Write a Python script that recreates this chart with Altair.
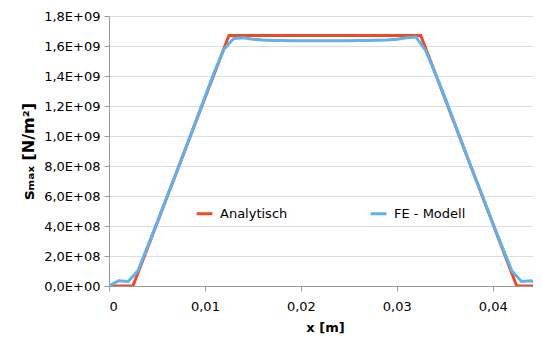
import altair as alt
import pandas as pd

# Analytic solution
ana_x = [0.0, 0.0025, 0.0125, 0.0325, 0.0425, 0.045]
ana_y = [0.0, 0.0, 1.67e9, 1.67e9, 0.0, 0.0]

# FE model
fe_x = [i * 0.001 for i in range(46)]
fe_y = [0.0, 3.5e7, 3.0e7, 1.0e8, 2.6e8, 4.2e8, 5.9e8, 7.5e8, 9.2e8, 1.09e9,
        1.26e9, 1.43e9, 1.58e9, 1.65e9, 1.655e9, 1.645e9, 1.64e9, 1.637e9, 1.636e9, 1.635e9,
        1.635e9, 1.635e9, 1.635e9, 1.635e9, 1.635e9, 1.635e9, 1.636e9, 1.637e9, 1.638e9, 1.64e9,
        1.645e9, 1.655e9, 1.66e9, 1.57e9, 1.42e9, 1.26e9, 1.09e9, 9.2e8, 7.5e8, 5.9e8,
        4.2e8, 2.6e8, 1.0e8, 3.0e7, 3.5e7, 0.0]

series = ["Analytisch", "FE - Modell"]
colors = ["#EF4A26", "#5EB2EE"]
y_ticks = [0, 2e8, 4e8, 6e8, 8e8, 1e9, 1.2e9, 1.4e9, 1.6e9, 1.8e9]
x_ticks = [0, 0.01, 0.02, 0.03, 0.04]

df = pd.concat([
    pd.DataFrame({"x": ana_x, "y": ana_y, "s": series[0]}),
    pd.DataFrame({"x": fe_x, "y": fe_y, "s": series[1]}),
])

FONT = "DejaVu Sans"

xenc = alt.X("x:Q", scale=alt.Scale(domain=[0, 0.0442], nice=False, zero=False),
             axis=alt.Axis(values=x_ticks, title="x [m]",
                           labelExpr="replace(format(datum.value, '.2~f'), '.', ',')",
                           grid=False, domainColor="#999999", tickColor="#999999",
                           tickSize=5, labelPadding=9, labelFontSize=13, labelFont=FONT,
                           labelColor="#000000", titleFont=FONT, titleFontSize=13,
                           titleFontWeight="bold", titleColor="#000000",
                           titleX=216, titleY=41, titleAlign="center",
                           titleBaseline="middle"))
yenc = alt.Y("y:Q", scale=alt.Scale(domain=[0, 1.8e9], nice=False),
             axis=alt.Axis(values=y_ticks, title="sₘₐₓ [N/m²]",
                           labelExpr="replace(replace(format(datum.value, '.1e'), '.', ','), 'e+', 'E+0')",
                           labelOverlap=False, labelBound=False,
                           grid=True, gridColor="#DDDDDD", domainColor="#999999",
                           tickColor="#999999", tickSize=5, labelPadding=4,
                           labelFontSize=13, labelFont=FONT, labelColor="#000000",
                           titleFont=FONT, titleFontSize=16, titleFontWeight="bold",
                           titleColor="#000000", titleAngle=-90, titleX=-81, titleY=135,
                           titleAlign="center", titleBaseline="middle"))
color = alt.Color("s:N", scale=alt.Scale(domain=series, range=colors),
                  legend=alt.Legend(title=None, orient="none", direction="horizontal",
                                    legendX=86, legendY=188, labelFont=FONT,
                                    labelFontSize=13, labelColor="#000000",
                                    symbolType="stroke", symbolStrokeWidth=3,
                                    symbolSize=250, columnPadding=76, labelOffset=6))

base = alt.Chart(df)
lines = base.mark_line(strokeWidth=3, clip=True).encode(x=xenc, y=yenc, color=color)
pts = base.transform_filter(alt.datum.s == series[1]).mark_point(
    shape="diamond", size=8, filled=True, color="#8FA8BE", clip=True, opacity=0.8
).encode(x=xenc, y=yenc)

chart = (lines + pts).properties(
    width=424, height=270,
    autosize=alt.AutoSizeParams(type="none"),
    padding={"left": 101, "top": 8, "right": 0, "bottom": 51},
).configure_view(stroke=None).configure_axis(labelOverlap=False)

chart.save("out.html", embed_options={"renderer": "svg", "actions": False})
